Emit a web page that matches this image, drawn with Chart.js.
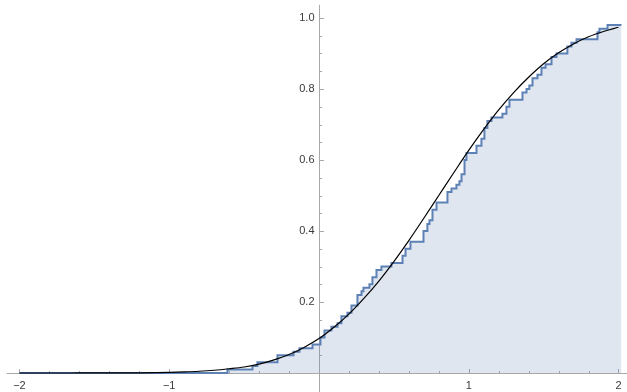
<!DOCTYPE html>
<html>
<head>
<meta charset="utf-8">
<script src="https://cdn.jsdelivr.net/npm/chart.js@4"></script>
<style>
html, body { margin: 0; padding: 0; background: #fff; }
canvas { display: block; }
</style>
</head>
<body>
<canvas id="cdf_chart" width="627" height="392"></canvas>
<script>
// empirical CDF: x where each jump happens, and the level after the jump
var stepX = [-2, -0.611, -0.444, -0.411, -0.277, -0.170, -0.130, -0.043, 0.010, 0.037,
    0.083, 0.124, 0.150, 0.190, 0.217, 0.257, 0.284, 0.297, 0.337, 0.357,
    0.384, 0.417, 0.484, 0.558, 0.578, 0.611, 0.698, 0.724, 0.738, 0.758,
    0.785, 0.858, 0.885, 0.918, 0.938, 0.952, 0.972, 0.985, 1.052, 1.085,
    1.105, 1.125, 1.152, 1.225, 1.252, 1.272, 1.359, 1.386, 1.405, 1.426,
    1.459, 1.486, 1.513, 1.553, 1.586, 1.659, 1.686, 1.720, 1.860, 1.873,
    1.927, 2.02];
var stepY = [0, 0.01, 0.02, 0.03, 0.05, 0.06, 0.07, 0.08, 0.10, 0.12,
    0.13, 0.14, 0.16, 0.17, 0.19, 0.22, 0.23, 0.24, 0.25, 0.27,
    0.29, 0.30, 0.31, 0.33, 0.35, 0.37, 0.40, 0.42, 0.43, 0.46,
    0.48, 0.51, 0.52, 0.53, 0.54, 0.56, 0.60, 0.62, 0.64, 0.66,
    0.69, 0.71, 0.72, 0.73, 0.75, 0.77, 0.79, 0.80, 0.81, 0.83,
    0.84, 0.86, 0.87, 0.89, 0.90, 0.92, 0.93, 0.94, 0.96, 0.97,
    0.98, 0.98];

var curveX = [-2, -1.9, -1.8, -1.7, -1.6, -1.5, -1.4, -1.3, -1.2, -1.1,
    -1, -0.9, -0.8, -0.7, -0.6, -0.5, -0.4, -0.3, -0.2, -0.1,
    0, 0.1, 0.2, 0.3, 0.4, 0.5, 0.6, 0.7, 0.8, 0.9,
    1, 1.1, 1.2, 1.3, 1.4, 1.5, 1.6, 1.7, 1.8, 1.9, 2];
var curveY = [0, 0, 0, 0, 0.0001, 0.0001, 0.0002, 0.0004, 0.0006, 0.0011,
    0.0018, 0.0031, 0.0049, 0.0078, 0.012, 0.017, 0.025, 0.037, 0.052, 0.072,
    0.097, 0.129, 0.166, 0.210, 0.259, 0.314, 0.373, 0.436, 0.500, 0.564,
    0.627, 0.686, 0.741, 0.790, 0.833, 0.871, 0.902, 0.927, 0.947, 0.962, 0.974];

var xTicks = [-2, -1, 1, 2];
var xTickLabels = ['\u22122', '\u22121', '1', '2'];
var yTicks = [0.2, 0.4, 0.6, 0.8, 1.0];
var yTickLabels = ['0.2', '0.4', '0.6', '0.8', '1.0'];

var stepPoints = stepX.map(function (x, i) { return { x: x, y: stepY[i] }; });
var curvePoints = curveX.map(function (x, i) { return { x: x, y: curveY[i] }; });

// axes crossing at the origin, ticks pointing inward
var crossAxes = {
    id: 'crossAxes',
    beforeDatasetsDraw: function (chart) {
        var ctx = chart.ctx;
        var xs = chart.scales.x, ys = chart.scales.y;
        var ox = Math.round(xs.getPixelForValue(0)) + 0.5;
        var oy = Math.round(ys.getPixelForValue(0)) + 0.5;
        ctx.save();
        ctx.strokeStyle = '#a8a8a8';
        ctx.lineWidth = 1;
        ctx.beginPath();
        ctx.moveTo(xs.getPixelForValue(-2.085), oy);
        ctx.lineTo(chart.width, oy);
        ctx.moveTo(ox, ys.getPixelForValue(1.037));
        ctx.lineTo(ox, chart.height);
        ctx.stroke();

        ctx.beginPath();
        for (var i = -10; i <= 10; i++) {
            if (i === 0) continue;
            var px = Math.round(xs.getPixelForValue(i / 5)) + 0.5;
            var len = (i % 5 === 0) ? 4.5 : 2.5;
            ctx.moveTo(px, oy);
            ctx.lineTo(px, oy - len);
        }
        for (var j = 1; j <= 20; j++) {
            var py = Math.round(ys.getPixelForValue(j / 20)) + 0.5;
            var ylen = (j % 4 === 0) ? 4.5 : 2.5;
            ctx.moveTo(ox, py);
            ctx.lineTo(ox + ylen, py);
        }
        ctx.stroke();

        ctx.fillStyle = '#3a3a3a';
        ctx.font = '11px "Liberation Sans", Arial, sans-serif';
        ctx.textAlign = 'center';
        ctx.textBaseline = 'middle';
        xTicks.forEach(function (v, k) {
            ctx.fillText(xTickLabels[k], xs.getPixelForValue(v), oy + 12);
        });
        ctx.textAlign = 'right';
        yTicks.forEach(function (v, k) {
            ctx.fillText(yTickLabels[k], ox - 5, ys.getPixelForValue(v));
        });
        ctx.restore();
    }
};

var ctx = document.getElementById('cdf_chart').getContext('2d');
var myChart = new Chart(ctx, {
    type: 'line',
    data: {
        datasets: [{
            label: 'CDF',
            data: curvePoints,
            borderColor: '#000000',
            borderWidth: 1.2,
            cubicInterpolationMode: 'monotone',
            pointRadius: 0,
            fill: false,
            order: 0
        }, {
            label: 'Empirical',
            data: stepPoints,
            stepped: true,
            borderColor: '#5e81b5',
            borderWidth: 2,
            backgroundColor: 'rgba(94, 129, 181, 0.2)',
            fill: 'origin',
            pointRadius: 0,
            order: 1
        }]
    },
    options: {
        responsive: false,
        animation: false,
        layout: { padding: 0 },
        plugins: {
            legend: { display: false },
            tooltip: { enabled: false }
        },
        scales: {
            x: { type: 'linear', min: -2.130, max: 2.057, display: false },
            y: { type: 'linear', min: -0.0535, max: 1.0507, display: false }
        }
    },
    plugins: [crossAxes]
});
</script>
</body>
</html>
